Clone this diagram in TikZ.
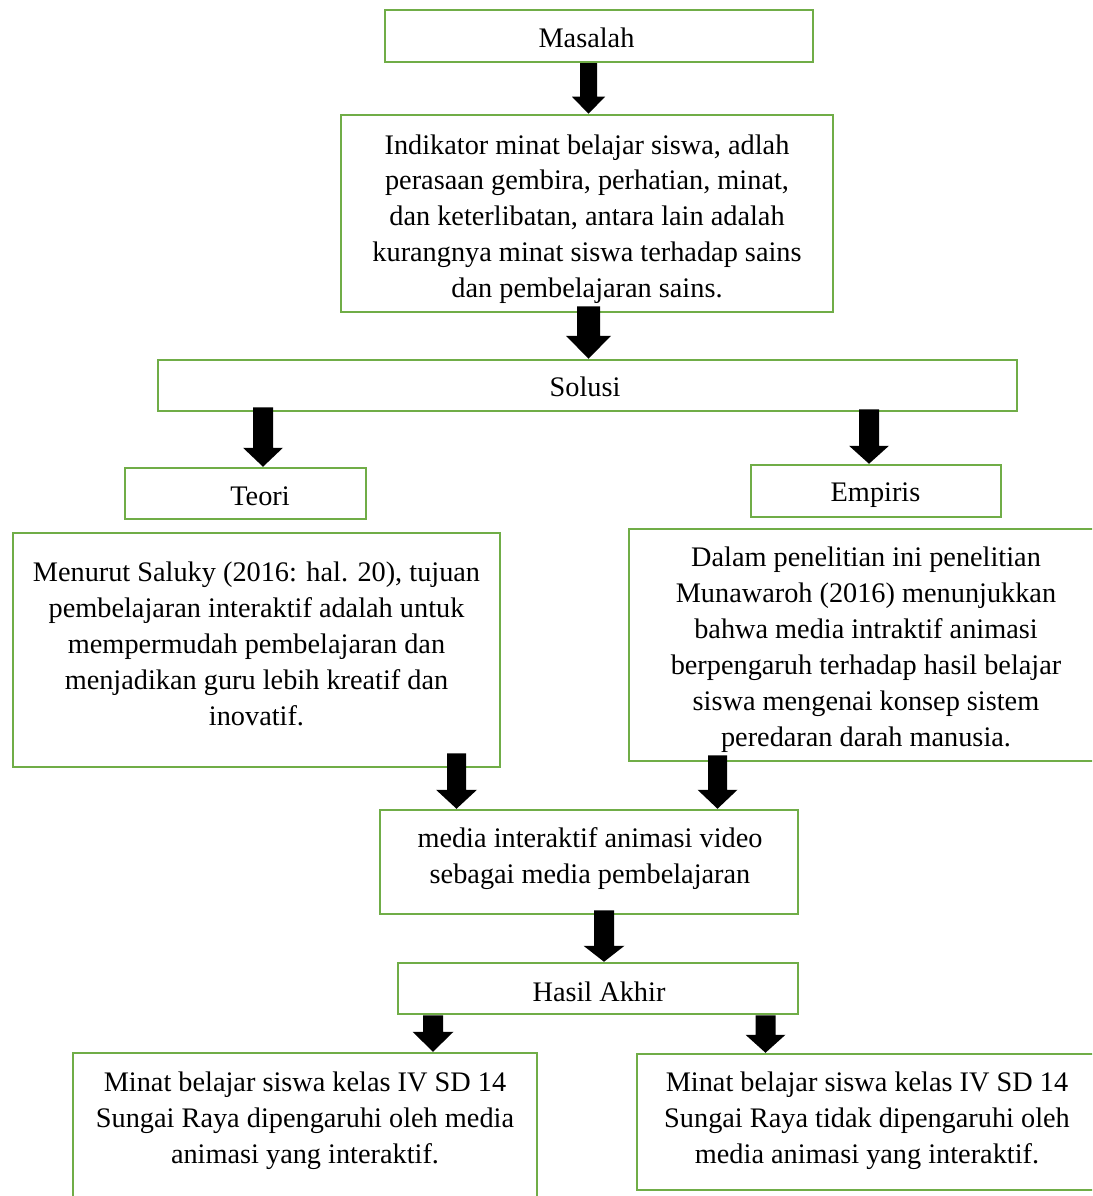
\documentclass[tikz,border=0pt]{standalone}
\usepackage{fontspec}
\setmainfont{Liberation Serif}
\usetikzlibrary{calc}
\definecolor{boxgreen}{HTML}{70AD47}
\tikzset{
  box/.style={draw=boxgreen, line width=2.5pt, rectangle, inner sep=0pt, fill=none},
  txt/.style={align=center, inner sep=0pt, font=\fontsize{28.3}{35.9}\selectfont},
}
% block arrow: from, to, shaft half width, head half width, head length
\newcommand\blkarrow[5]{%
  \fill[black] let \p1=(#1), \p2=(#2) in
    (\x1-#3,\y1) -- (\x1+#3,\y1) -- (\x1+#3,\y2+#5) -- (\x1+#4,\y2+#5)
    -- (\x1,\y2) -- (\x1-#4,\y2+#5) -- (\x1-#3,\y2+#5) -- cycle;}
\begin{document}
\begin{tikzpicture}[x=1pt,y=-1pt]
\useasboundingbox (0,0) rectangle (1092,1196);
\clip (0,0) rectangle (1092,1196);
% boxes
\node[box, minimum width=428pt, minimum height=52pt] (masalah) at (599,36) {};
\node[box, minimum width=492pt, minimum height=197pt] (ind) at (587,213.5) {};
\node[box, minimum width=859pt, minimum height=51pt] (solusi) at (587.5,385.5) {};
\node[box, minimum width=241pt, minimum height=51pt] (teori) at (245.5,493.5) {};
\node[box, minimum width=250pt, minimum height=52pt] (empiris) at (876,491) {};
\node[box, minimum width=487pt, minimum height=234pt] (menurut) at (256.5,650) {};
\node[box, minimum width=467pt, minimum height=232pt] (dalam) at (862.5,645) {};
\node[box, minimum width=418pt, minimum height=104pt] (media) at (589,862) {};
\node[box, minimum width=400pt, minimum height=51pt] (hasil) at (598,988.5) {};
\node[box, minimum width=464pt, minimum height=150pt] (ya) at (305,1128) {};
\node[box, minimum width=459pt, minimum height=136pt] (tidak) at (866.5,1122) {};
% texts
\node[txt] (t-masalah) at (586.5,37.5) {Masalah};
\node[txt] (t-ind) at (587,219) {Indikator minat belajar siswa, adlah\\perasaan gembira, perhatian, minat,\\dan keterlibatan, antara lain adalah\\kurangnya minat siswa terhadap sains\\dan pembelajaran sains.};
\node[txt] (t-solusi) at (585,387) {Solusi};
\node[txt] (t-teori) at (260,496) {Teori};
\node[txt] (t-empiris) at (875.5,495) {Empiris};
\node[txt] (t-menurut) at (256.5,644) {Menurut Saluky (2016: hal. 20), tujuan\\pembelajaran interaktif adalah untuk\\mempermudah pembelajaran dan\\menjadikan guru lebih kreatif dan\\inovatif.};
\node[txt] (t-dalam) at (866,649.5) {Dalam penelitian ini penelitian\\Munawaroh (2016) menunjukkan\\bahwa media intraktif animasi\\berpengaruh terhadap hasil belajar\\siswa mengenai konsep sistem\\peredaran darah manusia.};
\node[txt] (t-media) at (590,858.5) {media interaktif animasi video\\sebagai media pembelajaran};
\node[txt] (t-hasil) at (599,991.5) {Hasil Akhir};
\node[txt] (t-ya) at (305,1121) {Minat belajar siswa kelas IV SD 14\\Sungai Raya dipengaruhi oleh media\\animasi yang interaktif.};
\node[txt] (t-tidak) at (867,1121) {Minat belajar siswa kelas IV SD 14\\Sungai Raya tidak dipengaruhi oleh\\media animasi yang interaktif.};
% block arrows
\blkarrow{masalah.south -| 588.5,0}{ind.north -| 588.5,0}{8.5pt}{16.5pt}{17pt}
\blkarrow{[yshift=7pt]ind.south -| 588.5,0}{solusi.north -| 588.5,0}{11.5pt}{22.5pt}{23pt}
\blkarrow{[yshift=5pt]solusi.south -| 263,0}{teori.north -| 263,0}{10pt}{20pt}{19pt}
\blkarrow{[yshift=3pt]solusi.south -| 869,0}{empiris.north -| 869,0}{10pt}{20pt}{18pt}
\blkarrow{[yshift=15pt]menurut.south -| 456.5,0}{media.north -| 456.5,0}{9.5pt}{20.5pt}{19pt}
\blkarrow{[yshift=7pt]dalam.south -| 717.5,0}{media.north -| 717.5,0}{9.5pt}{20pt}{19pt}
\blkarrow{[yshift=5pt]media.south -| 604,0}{hasil.north -| 604,0}{10pt}{20.5pt}{16pt}
\blkarrow{hasil.south -| 433,0}{ya.north -| 433,0}{10pt}{20.5pt}{20pt}
\blkarrow{hasil.south -| 765.5,0}{tidak.north -| 765.5,0}{10pt}{20pt}{18pt}
\end{tikzpicture}
\end{document}
